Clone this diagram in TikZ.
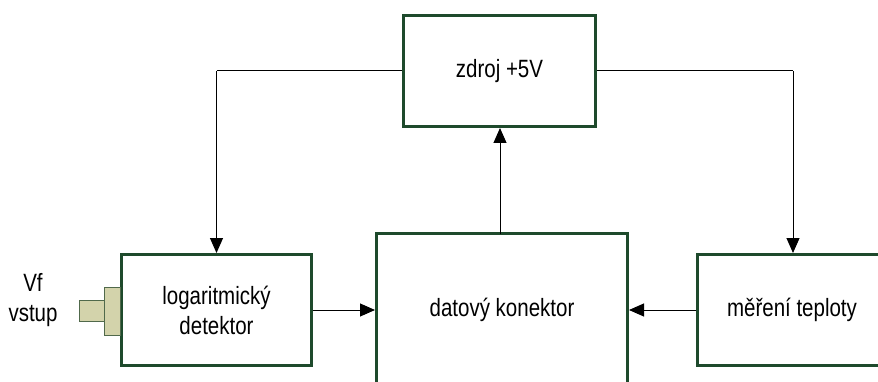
\documentclass[tikz,border=0pt]{standalone}
\usepackage{fontspec}
\setmainfont{Liberation Sans}
\newfontfamily\narrowfont[FakeStretch=0.82]{Liberation Sans}
\usetikzlibrary{arrows.meta}
\definecolor{boxgreen}{RGB}{30,74,44}
\definecolor{plugfill}{RGB}{211,211,171}
\definecolor{plugline}{RGB}{80,105,75}
\tikzset{
  block/.style={draw=boxgreen, line width=3pt, fill=white, inner sep=0pt, align=center,
    font=\narrowfont\fontsize{25}{30}\selectfont},
  wire/.style={draw=black, line width=1pt, -{Triangle[length=15pt,width=13pt]}},
  plainwire/.style={draw=black, line width=1pt},
  plug/.style={draw=plugline, line width=1pt, fill=plugfill, inner sep=0pt},
  lbl/.style={align=center, inner sep=0pt, font=\narrowfont\fontsize{25}{30}\selectfont}
}
\begin{document}
\begin{tikzpicture}[x=1pt,y=-1pt]
\useasboundingbox (0,0) rectangle (878,382);
\clip (0,0) rectangle (878,382);
\node[block, minimum width=192pt, minimum height=111pt] (zdroj) at (499.5,71) {zdroj +5V};
\node[block, minimum width=190pt, minimum height=111pt] (log) at (216.5,310) {logaritmický\\detektor};
\node[block, minimum width=251pt, minimum height=152pt] (dat) at (502,310) {datový konektor};
\node[block, minimum width=189pt, minimum height=111pt] (mer) at (792,310) {měření teploty};
% input plug
\node[plug, minimum width=16pt, minimum height=48pt] (plugA) at (112,311) {};
\node[plug, minimum width=25pt, minimum height=21pt] (plugB) at (91.5,310.5) {};
\node[lbl] (vf) at (33,300) {Vf\\vstup};
% connectors
\coordinate (tl) at (log.north |- zdroj.west);
\coordinate (tr) at (793,71);
\coordinate (up) at (500,234);
\draw[plainwire] (zdroj.west) -- (tl);
\draw[wire] (tl) -- (log.north);
\draw[plainwire] (zdroj.east) -- (tr);
\draw[wire] (tr) -- (tr |- mer.north);
\draw[wire] (up) -- (up |- zdroj.south);
\draw[wire] (log.east) -- (dat.west);
\draw[wire] (mer.west) -- (dat.east);
\end{tikzpicture}
\end{document}
